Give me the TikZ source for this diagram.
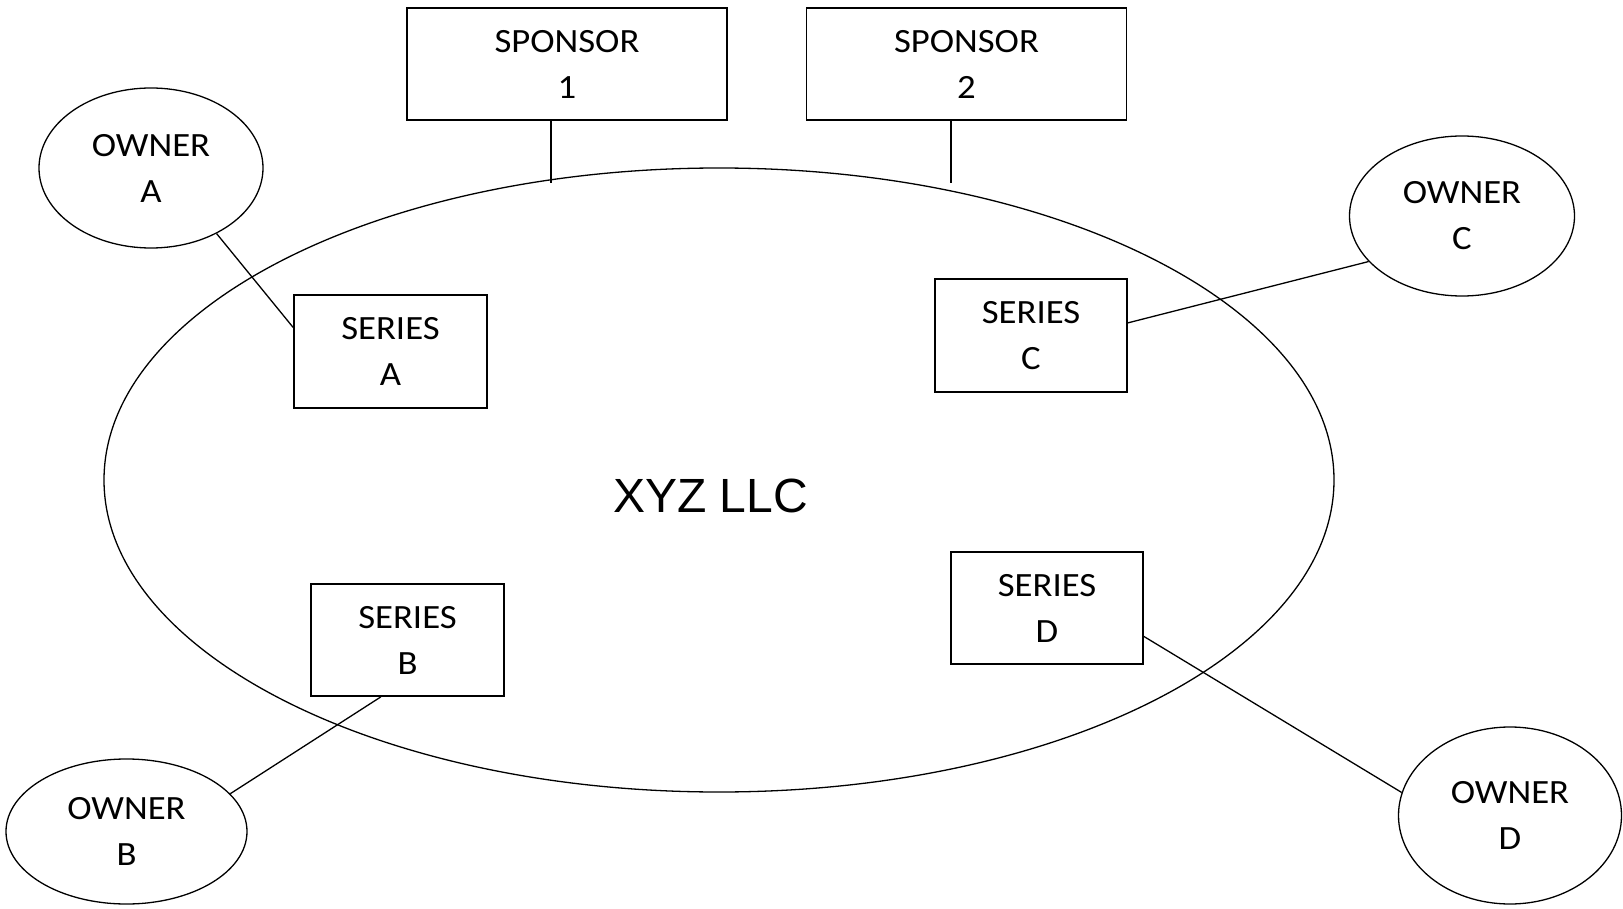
\documentclass[tikz,border=0pt]{standalone}
\usepackage{fontspec}
\setmainfont{Carlito}[FakeStretch=1.08]
\newfontfamily\llcfont{Liberation Sans}
\usetikzlibrary{shapes.geometric,calc}
\begin{document}
\begin{tikzpicture}[x=1pt,y=-1pt,
  lbl/.style={font=\fontsize{34}{46}\selectfont, align=center, inner sep=0pt},
  box/.style={lbl, draw, line width=1.8pt, rectangle},
  owner/.style={lbl, draw, line width=1.3pt, ellipse},
  conn/.style={line width=1.3pt}]
\useasboundingbox (0,0) rectangle (1623,909);
% big ellipse
\node[draw, ellipse, line width=1.3pt, minimum width=1230pt, minimum height=624pt, inner sep=0pt] (llc) at (719,480) {};
\node[font=\llcfont\fontsize{48}{56}\selectfont, inner sep=0pt] (llctext) at (710.5,496) {XYZ LLC};
% sponsors
\node[box, minimum width=320pt, minimum height=112pt] (s1) at (567,64) {SPONSOR\\1};
\node[box, minimum width=320pt, minimum height=112pt] (s2) at (966.5,64) {SPONSOR\\2};
% series
\node[box, minimum width=193pt, minimum height=113pt] (sa) at (390.5,351.5) {SERIES\\A};
\node[box, minimum width=192pt, minimum height=113pt] (sc) at (1031,335.5) {SERIES\\C};
\node[box, minimum width=193pt, minimum height=112pt] (sb) at (407.5,640) {SERIES\\B};
\node[box, minimum width=192pt, minimum height=112pt] (sd) at (1047,608) {SERIES\\D};
% owners
\node[owner, minimum width=224pt, minimum height=160pt] (oa) at (151,168) {OWNER\\A};
\node[owner, minimum width=225pt, minimum height=160pt] (oc) at (1462,216) {OWNER\\C};
\node[owner, minimum width=241pt, minimum height=145pt] (ob) at (126.5,831.5) {OWNER\\B};
\node[owner, minimum width=223pt, minimum height=177pt] (od) at (1510,815.5) {OWNER\\D};
% sponsor connectors
\coordinate (p1) at (551,183);
\coordinate (p2) at (951,183);
\draw[conn] (s1.south -| p1) -- (p1);
\draw[conn] (s2.south -| p2) -- (p2);
% owner connectors
\draw[conn] (oa.-45) -- ($(sa.north west)!0.29!(sa.south west)$);
\draw[conn] ($(sc.north east)!0.39!(sc.south east)$) -- (oc.206);
\draw[conn] ($(sb.south west)!0.363!(sb.south east)$) -- (ob.20);
\draw[conn] ($(sd.north east)!0.75!(sd.south east)$) -- (od.168);
\end{tikzpicture}
\end{document}
